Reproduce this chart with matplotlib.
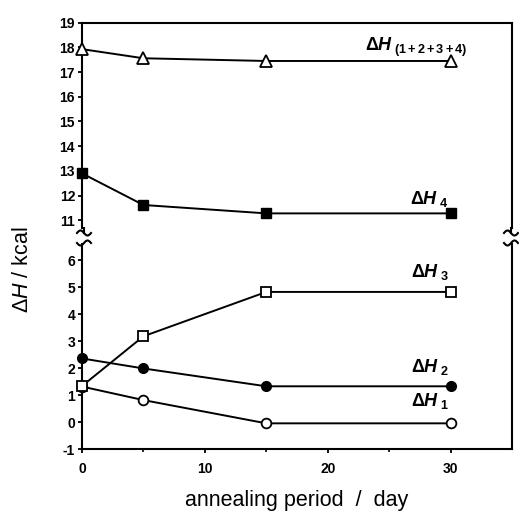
import numpy as np
import matplotlib
matplotlib.use('Agg')
import matplotlib.pyplot as plt
from matplotlib.lines import Line2D

plt.rcParams['font.family'] = ['Liberation Sans', 'DejaVu Sans']
plt.rcParams['axes.unicode_minus'] = False
plt.rcParams['mathtext.fontset'] = 'custom'
plt.rcParams['mathtext.rm'] = 'Liberation Sans'
plt.rcParams['mathtext.it'] = 'Liberation Sans:italic'
plt.rcParams['mathtext.bf'] = 'Liberation Sans:bold'
plt.rcParams['mathtext.bfit'] = 'Liberation Sans:bold:italic'

# 数据
days = [0, 5, 15, 30]
dH_total = [17.93, 17.56, 17.45, 17.45]
dH4 = [12.9, 11.62, 11.28, 11.28]
dH3 = [1.34, 3.18, 4.82, 4.82]
dH2 = [2.36, 1.99, 1.33, 1.33]
dH1 = [1.32, 0.82, -0.04, -0.04]

top_ticks = list(range(11, 20))
bot_ticks = list(range(-1, 7))
x_ticks = [0, 10, 20, 30]

W, H = 519, 511
fig = plt.figure(figsize=(W / 100, H / 100), dpi=100)

left = 82 / W
width = (512 - 82) / W
ax_top = fig.add_axes([left, 1 - 228 / H, width, (228 - 22.7) / H])
ax_bot = fig.add_axes([left, 1 - 449.3 / H, width, (449.3 - 244) / H])

lw = 1.4
ms = 7
ax_top.plot(days, dH_total, '-', color='black', lw=lw, marker='^', ms=ms + 1,
            mfc='white', mec='black', mew=1.3, zorder=3, clip_on=False)
ax_top.plot(days, dH4, '-', color='black', lw=lw, marker='s', ms=ms,
            mfc='black', mec='black', zorder=3, clip_on=False)

ax_bot.plot(days, dH1, '-', color='black', lw=lw, marker='o', ms=ms,
            mfc='white', mec='black', mew=1.3, zorder=3, clip_on=False)
ax_bot.plot(days, dH2, '-', color='black', lw=lw, marker='o', ms=ms,
            mfc='black', mec='black', zorder=3, clip_on=False)
ax_bot.plot(days, dH3, '-', color='black', lw=lw, marker='s', ms=ms,
            mfc='white', mec='black', mew=1.3, zorder=4, clip_on=False)

ax_top.set_xlim(0, 35)
ax_bot.set_xlim(0, 35)
ax_top.set_ylim(19 - (228 - 22.7) / 24.7, 19)
ax_bot.set_ylim(-1, 6 + (260 - 244) / 27.0)

ax_top.spines['bottom'].set_visible(False)
ax_bot.spines['top'].set_visible(False)
for ax in (ax_top, ax_bot):
    for s in ax.spines.values():
        s.set_linewidth(1.5)

ax_top.set_yticks(top_ticks)
ax_bot.set_yticks(bot_ticks)
ax_top.set_xticks([])
ax_bot.set_xticks(x_ticks)
ax_bot.set_xticks([5, 15, 25], minor=True)
tick_font = ['Liberation Sans Narrow', 'Liberation Sans', 'DejaVu Sans']
for ax in (ax_top, ax_bot):
    ax.tick_params(axis='y', direction='out', length=3, width=1.3, labelsize=10, pad=2)
    ax.tick_params(axis='x', direction='out', length=3, width=1.3, labelsize=10, pad=6)
    ax.tick_params(axis='x', which='minor', direction='out', length=2, width=1.2)
    for lab in ax.get_yticklabels() + ax.get_xticklabels():
        lab.set_fontweight('bold')
        lab.set_family(tick_font)

# 曲线标签
ax_top.text(27.2, 18.0, r'$\mathbf{\Delta}\mathbfit{H}_{\ \mathbf{(1+2+3+4)}}$', fontsize=13, ha='center', va='center')
ax_top.text(28.3, 11.85, r'$\mathbf{\Delta}\mathbfit{H}_{\ \mathbf{4}}$', fontsize=13, ha='center', va='center')
ax_bot.text(28.3, 5.55, r'$\mathbf{\Delta}\mathbfit{H}_{\ \mathbf{3}}$', fontsize=13, ha='center', va='center')
ax_bot.text(28.3, 2.05, r'$\mathbf{\Delta}\mathbfit{H}_{\ \mathbf{2}}$', fontsize=13, ha='center', va='center')
ax_bot.text(28.3, 0.8, r'$\mathbf{\Delta}\mathbfit{H}_{\ \mathbf{1}}$', fontsize=13, ha='center', va='center')

ax_bot.set_xlabel('annealing period  /  day', fontsize=15.5, labelpad=10)
fig.text(22 / W, 1 - 270 / H, r'$\Delta\mathit{H}$ / kcal', rotation=90,
         fontsize=15.5, ha='center', va='center')

# 断轴标记
def squiggle(xc, yc, flip):
    t = np.linspace(-1, 1, 40)
    xs = xc + 7 * t
    ys = yc + (2.5 if not flip else -2.5) * np.sin(np.pi * t)
    fig.add_artist(Line2D(xs / W, 1 - ys / H, color='black', lw=1.5))

for xc in (84, 511):
    squiggle(xc, 233, False)
    squiggle(xc, 243, True)
    fig.add_artist(Line2D([xc / W, xc / W], [1 - 228 / H, 1 - 233 / H], color='black', lw=1.5))

fig.savefig('out.png', dpi=100)
